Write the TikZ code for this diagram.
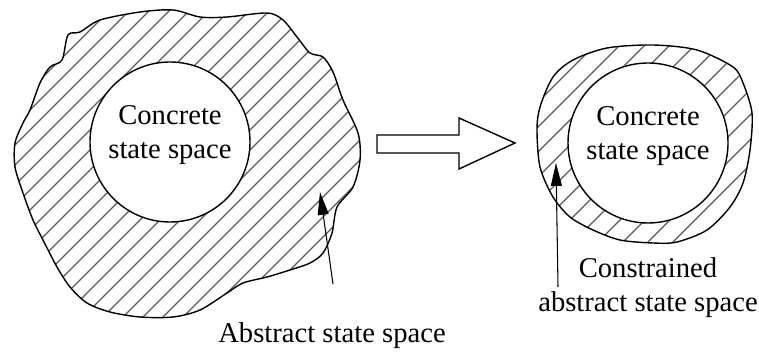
\documentclass[tikz,border=0pt]{standalone}
\usepackage{fontspec}
\setmainfont{Liberation Serif}
\usepackage{tikz}
\usetikzlibrary{arrows.meta,positioning,calc}
\tikzset{
  outline/.style={draw=black, line width=0.8pt},
  hatch/.style={draw=black!65, line width=0.7pt},
  core/.style={circle, draw=black, line width=0.8pt, fill=white, minimum size=160*0.02cm, inner sep=0pt},
  txt/.style={font=\fontsize{16.3}{19.3}\selectfont, align=center, inner sep=0pt},
  pointer/.style={-{Triangle[length=13pt,width=6.2pt]}, line width=0.6pt, draw=black},
  bigarrow/.style={draw=black, line width=0.8pt, fill=white},
}

\begin{document}
\begin{tikzpicture}[x=0.02cm, y=-0.02cm]
  \useasboundingbox (0,0) rectangle (759,354);
  % abstract space (left)
  \def\blobA{(68,35) (80,32) (100,20) (140,12) (173,10) (200,17) (227,17) (267,13)
    (283,20) (297,37) (310,53) (323,57) (333,72) (343,100) (358,133) (360,160)
    (353,187) (337,207) (332,233) (323,253) (310,263) (290,270) (267,277)
    (243,283) (227,293) (200,310) (173,317) (140,317) (110,312) (87,303)
    (70,287) (57,267) (43,240) (33,220) (23,193) (15,167) (15,143) (23,123)
    (30,110) (40,83) (50,67) (62,60)}
  \begin{scope}
    \clip plot[smooth cycle, tension=0.5] coordinates {\blobA};
    \foreach \x in {-380,-360,...,380}
      \draw[hatch] (\x,360) -- ++(360,-360);
  \end{scope}
  \draw[outline] plot[smooth cycle, tension=0.5] coordinates {\blobA};
  \node[core] (concA) at (170,142) {};
  \node[txt] (concAtxt) at ($(concA.center)+(0,-7)$) {Concrete\\state space};

  % constrained abstract space (right)
  \def\blobB{(553,77) (573,60) (607,48) (653,45) (697,50) (733,67) (743,83)
    (752,113) (750,150) (743,183) (730,207) (707,230) (677,242) (653,243)
    (620,240) (593,230) (570,217) (553,197) (540,167) (537,130) (540,107)}
  \begin{scope}
    \clip plot[smooth cycle, tension=0.5] coordinates {\blobB};
    \foreach \x in {180,205,...,780}
      \draw[hatch] (\x,360) -- ++(360,-360);
  \end{scope}
  \draw[outline] plot[smooth cycle, tension=0.5] coordinates {\blobB};
  \node[core] (concB) at (648,143) {};
  \node[txt] (concBtxt) at ($(concB.center)+(0,-7)$) {Concrete\\state space};

  % transformation arrow
  \draw[bigarrow] (377,135) -- (459,135) -- (459,118) -- (515,143)
    -- (459,169) -- (459,153) -- (377,153) -- cycle;

  % labels
  \node[txt] (absLbl) at (332,336) {Abstract state space};
  \node[txt] (conLbl) at (648,288) {Constrained\\abstract state space};
  \coordinate (tipA) at (320,192);
  \coordinate (tailA) at (333,284);
  \coordinate (tipB) at (556,163);
  \coordinate (tailB) at (558,287);
  \draw[pointer] (tailA) -- (tipA);
  \draw[pointer] (tailB) -- (tipB);
\end{tikzpicture}
\end{document}
